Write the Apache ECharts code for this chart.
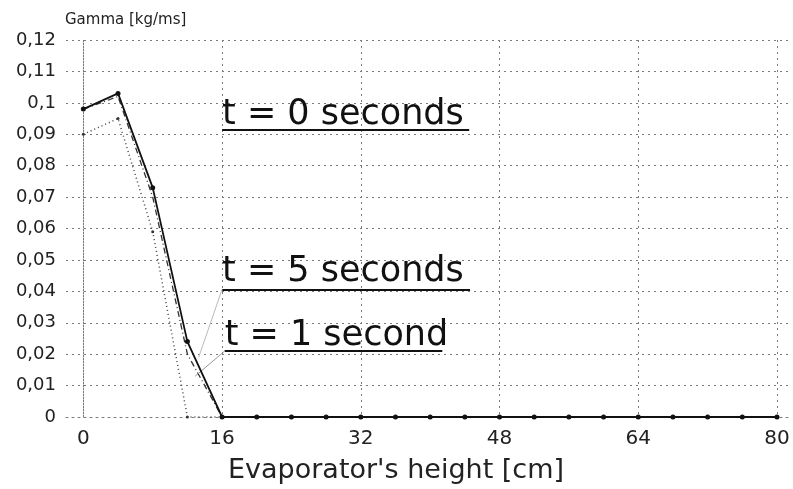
<!DOCTYPE html>
<html>
<head>
<meta charset="utf-8">
<script src="https://cdn.jsdelivr.net/npm/echarts@6/dist/echarts.min.js"></script>
<style>html,body{margin:0;padding:0;background:#fff;}#c{width:793px;height:489px;}</style>
</head>
<body>
<div id="c"></div>
<script>
// Data
var heights = [0, 4, 8, 12, 16, 20, 24, 28, 32, 36, 40, 44, 48, 52, 56, 60, 64, 68, 72, 76, 80];
var gammaT0 = [0.098, 0.103, 0.073, 0.024, 0, 0, 0, 0, 0, 0, 0, 0, 0, 0, 0, 0, 0, 0, 0, 0, 0];
var gammaT1 = [0.098, 0.102, 0.070, 0.020, 0];
var gammaT5 = [0.090, 0.095, 0.059, 0, 0];
var xTickLabels = [0, 16, 32, 48, 64, 80];
var labelT0 = 't = 0 seconds';
var labelT5 = 't = 5 seconds';
var labelT1 = 't = 1 second';

function pairs(ys) { return ys.map(function (y, i) { return [heights[i], y]; }); }

var FONT = 'DejaVu Sans';
var chart = echarts.init(document.getElementById('c'), null, { renderer: 'canvas' });

var vColors = ['rgba(0,0,0,0)', '#7a7a7a', 'rgba(0,0,0,0)', 'rgba(0,0,0,0)', 'rgba(0,0,0,0)', 'rgba(0,0,0,0)', 'rgba(0,0,0,0)', 'rgba(0,0,0,0)'];

var option = {
  backgroundColor: '#fff',
  animation: false,
  title: {
    text: 'Gamma [kg/ms]', left: 60, top: 8,
    textStyle: { fontFamily: FONT, fontSize: 15, fontWeight: 'normal', color: '#222' }
  },
  grid: { left: 66, right: 2, top: 40, bottom: 71, containLabel: false },
  xAxis: {
    type: 'value', min: -2, max: 81.5, interval: 2,
    name: "Evaporator's height [cm]",
    nameLocation: 'middle', nameGap: 40,
    nameTextStyle: { fontFamily: FONT, fontSize: 27, color: '#222', padding: [0, 64, 0, 0] },
    axisLine: { show: true, lineStyle: { color: '#7a7a7a', type: [2, 4], width: 1 } },
    axisTick: { show: false },
    axisLabel: {
      fontFamily: FONT, fontSize: 20, color: '#222', margin: 12,
      formatter: function (v) { return xTickLabels.indexOf(v) >= 0 ? String(v) : ''; }
    },
    splitLine: { show: true, lineStyle: { color: vColors, type: [2, 4], width: 1 } }
  },
  yAxis: {
    type: 'value', min: 0, max: 0.12, interval: 0.01,
    axisLine: { show: true, lineStyle: { color: '#7a7a7a', type: [2, 4], width: 1 } },
    axisTick: { show: false },
    axisLabel: {
      fontFamily: FONT, fontSize: 18, color: '#222', margin: 10,
      formatter: function (v) {
        if (Math.abs(v) < 1e-9) return '0';
        return parseFloat(v.toFixed(2)).toString().replace('.', ',');
      }
    },
    splitLine: { show: true, lineStyle: { color: '#7a7a7a', type: [2, 4], width: 1 } }
  },
  series: [
    {
      name: 't = 0', type: 'line', data: pairs(gammaT0),
      symbol: 'circle', symbolSize: 5, showSymbol: true,
      itemStyle: { color: '#111' },
      lineStyle: { color: '#111', width: 1.8 },
      z: 5,
      markPoint: {
        symbol: 'circle', symbolSize: 0, silent: true,
        label: {
          show: true, position: 'right', distance: 0,
          fontFamily: FONT, fontSize: 35, color: '#111',
          formatter: function (p) { return p.name; }
        },
        data: [
          { name: labelT0, coord: [16, 0.0960] },
          { name: labelT5, coord: [16, 0.0461] },
          { name: labelT1, coord: [16.3, 0.0258] }
        ]
      },
      markLine: {
        symbol: 'none', silent: true, label: { show: false },
        data: [
          [{ coord: [16, 0.0914], lineStyle: { color: '#111', width: 2, type: 'solid' } }, { coord: [44.5, 0.0914] }],
          [{ coord: [16, 0.0406], lineStyle: { color: '#111', width: 2, type: 'solid' } }, { coord: [44.6, 0.0406] }],
          [{ coord: [16.3, 0.0210], lineStyle: { color: '#111', width: 2, type: 'solid' } }, { coord: [41.4, 0.0210] }],
          [{ coord: [16, 0.0406], lineStyle: { color: '#bbb', width: 1, type: 'solid' } }, { coord: [13.3, 0.019] }],
          [{ coord: [16.3, 0.0210], lineStyle: { color: '#999', width: 1, type: 'solid' } }, { coord: [12.9, 0.013] }]
        ]
      }
    },
    {
      name: 't = 1', type: 'line', data: pairs(gammaT1),
      symbol: 'none',
      lineStyle: { color: '#333', width: 1.3, type: [6, 3, 1, 3] },
      z: 4
    },
    {
      name: 't = 5', type: 'line', data: pairs(gammaT5),
      symbol: 'circle', symbolSize: 3,
      itemStyle: { color: '#333' },
      lineStyle: { color: '#444', width: 1.5, type: [1, 3] },
      z: 3
    }
  ]
};
chart.setOption(option);
</script>
</body>
</html>
